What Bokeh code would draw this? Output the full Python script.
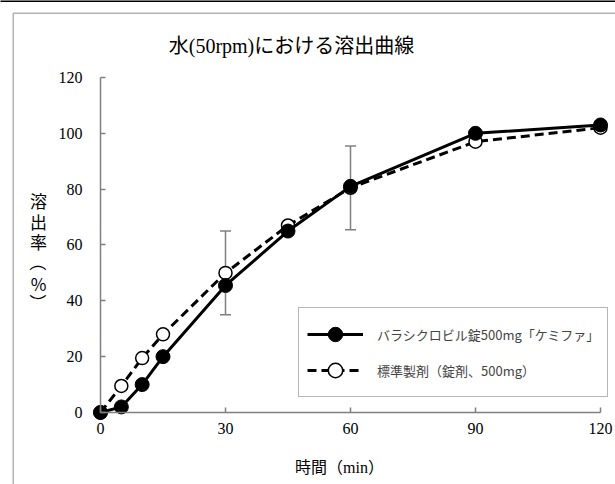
import math
from bokeh.plotting import figure
from bokeh.models import (Range1d, ColumnDataSource, Whisker, TeeHead, Legend,
                          LegendItem, Label, BoxAnnotation, FixedTicker)
from bokeh.embed import file_html
from bokeh.resources import INLINE

# ---- data ----
title_text = "水(50rpm)における溶出曲線"
x_label_text = "時間（min）"
y_label_chars = ["溶", "出", "率", "（", "%", "）"]
y_label_rotated = [False, False, False, True, False, True]
series_names = ["バラシクロビル錠500mg「ケミファ」", "標準製剤（錠剤、500mg）"]

time_min = [0, 5, 10, 15, 30, 45, 60, 90, 120]
test_pct = [0, 2, 10, 20, 45.5, 65, 81, 100, 103]
ref_pct = [0, 9.5, 19.5, 28, 50, 67, 80.5, 97, 102]

err_time = [30, 60]
err_low = [35, 65.5]
err_high = [65, 95.5]

x_ticks = [0, 30, 60, 90, 120]
y_ticks = [0, 20, 40, 60, 80, 100, 120]

# ---- figure (frame covers whole canvas) ----
W, H = 615, 484
p = figure(width=W, height=H,
           x_range=Range1d(-24.0, 123.6), y_range=Range1d(-25.79, 147.58),
           output_backend="svg", toolbar_location=None,
           min_border=0, min_border_left=0, min_border_right=0,
           min_border_top=0, min_border_bottom=0)
p.xgrid.visible = False
p.ygrid.visible = False
p.outline_line_color = None
p.background_fill_color = "white"
p.border_fill_color = "white"

AX = "#808080"
for ax, ticks in ((p.xaxis, x_ticks), (p.yaxis, y_ticks)):
    ax.fixed_location = 0
    ax.bounds = (ticks[0], ticks[-1])
    ax.ticker = FixedTicker(ticks=ticks)
    ax.minor_tick_line_color = None
    ax.major_tick_in = 5
    ax.major_tick_out = 0
    ax.axis_line_color = AX
    ax.axis_line_width = 1.5
    ax.major_tick_line_color = AX
    ax.major_tick_line_width = 1.5
    ax.major_label_text_font = "Liberation Serif"
    ax.major_label_text_font_size = "16px"
    ax.major_label_text_color = "black"
p.yaxis.major_label_standoff = 18
p.xaxis.major_label_standoff = 10

src_err = ColumnDataSource(dict(base=err_time, lower=err_low, upper=err_high))
wh = Whisker(source=src_err, base="base", lower="lower", upper="upper",
             line_color=AX, line_width=1.5,
             upper_head=TeeHead(size=11, line_color=AX, line_width=1.5),
             lower_head=TeeHead(size=11, line_color=AX, line_width=1.5))
p.add_layout(wh)

r_ref_l = p.line(time_min, ref_pct, line_width=3, line_color="black", line_dash="9 5")
r_ref_p = p.scatter(time_min, ref_pct, marker="circle", size=13,
                    fill_color="white", line_color="black", line_width=1.5)
r_test_l = p.line(time_min, test_pct, line_width=3, line_color="black")
r_test_p = p.scatter(time_min, test_pct, marker="circle", size=14,
                     fill_color="black", line_color="black")

legend = Legend(items=[LegendItem(label=series_names[0], renderers=[r_test_l, r_test_p]),
                       LegendItem(label=series_names[1], renderers=[r_ref_l, r_ref_p])],
                location=(298, 87), border_line_color="#6e6e6e", border_line_width=1.5,
                padding=8, spacing=0, margin=0, glyph_width=56, glyph_height=36,
                label_height=36, label_standoff=14,
                label_text_font="Noto Sans CJK JP", label_text_font_size="13px",
                background_fill_color="white", background_fill_alpha=1)
p.add_layout(legend)

# title
p.add_layout(Label(x=291, y=H - 45, x_units="screen", y_units="screen", text=title_text,
                   text_font="Liberation Serif, Noto Sans CJK JP", text_font_size="20px",
                   text_align="center", text_baseline="middle", text_color="black"))
# x axis title
p.add_layout(Label(x=339, y=H - 467, x_units="screen", y_units="screen", text=x_label_text,
                   text_font="Liberation Serif, Noto Sans CJK JP", text_font_size="16px",
                   text_align="center", text_baseline="middle", text_color="black"))
# y axis title (vertical writing; brackets turned upright)
ylab_page_y = [200, 221, 241, 262, 283, 302]
for ch, rot, yy in zip(y_label_chars, y_label_rotated, ylab_page_y):
    p.add_layout(Label(x=38, y=H - yy, x_units="screen", y_units="screen", text=ch,
                       angle=(-math.pi / 2 if rot else 0),
                       text_font="Noto Sans CJK JP", text_font_size="17px",
                       text_align="center", text_baseline="middle", text_color="black"))

# outer box (left and top edges visible) and the top rule of the page
p.add_layout(BoxAnnotation(left=12.75, right=2000, top=H - 12.75, bottom=-2000,
                           left_units="screen", right_units="screen",
                           top_units="screen", bottom_units="screen",
                           fill_alpha=0, line_color="black", line_width=1.5))
p.add_layout(BoxAnnotation(left=-10, right=2000, top=H + 10, bottom=H - 1.5,
                           left_units="screen", right_units="screen",
                           top_units="screen", bottom_units="screen",
                           fill_color="black", fill_alpha=1, line_color=None))

open("out.html", "w").write(file_html(p, INLINE))
